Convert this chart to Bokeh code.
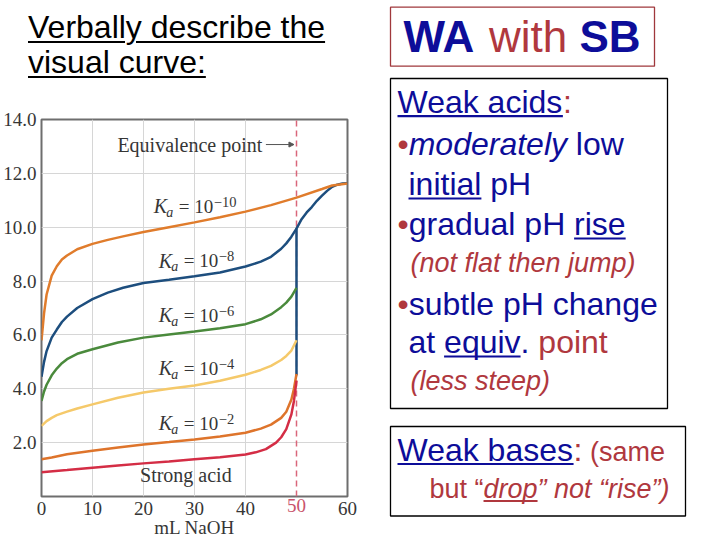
from bokeh.plotting import figure
from bokeh.layouts import row, column
from bokeh.models import Range1d, FixedTicker, PrintfTickFormatter, Arrow, NormalHead, LinearAxis, Div
from bokeh.core.properties import value
from bokeh.embed import file_html
from bokeh.resources import INLINE

# ---------------- data ----------------
strong_ml = [0, 5, 10, 15, 20, 25, 30, 35, 40, 42, 44, 45, 46, 47, 48, 49, 49.5, 50]
strong_ph = [0.9, 0.98, 1.07, 1.15, 1.23, 1.3, 1.38, 1.46, 1.56, 1.64, 1.76, 1.88, 2.0, 2.2, 2.5, 3.05, 3.55, 4.3]

ka2_ml = [0, 2, 5, 10, 15, 20, 25, 30, 35, 40, 43, 45, 47, 48, 49, 49.5, 50]
ka2_ph = [1.38, 1.45, 1.57, 1.7, 1.82, 1.93, 2.02, 2.12, 2.23, 2.37, 2.52, 2.67, 2.92, 3.15, 3.6, 4.0, 4.55]

ka4_ml = [0, 1, 2, 3, 5, 7, 10, 15, 20, 25, 30, 35, 40, 43, 45, 47, 48, 49, 50]
ka4_ph = [2.62, 2.8, 2.92, 3.02, 3.15, 3.27, 3.42, 3.67, 3.86, 4.0, 4.12, 4.3, 4.52, 4.7, 4.85, 5.07, 5.22, 5.42, 5.8]

ka6_ml = [0, 0.5, 1, 2, 3, 4, 5, 7, 10, 15, 20, 25, 30, 35, 40, 43, 45, 47, 48, 49, 50]
ka6_ph = [3.55, 3.9, 4.15, 4.5, 4.75, 4.95, 5.1, 5.3, 5.47, 5.72, 5.9, 6.02, 6.13, 6.25, 6.4, 6.58, 6.76, 7.03, 7.2, 7.42, 7.75]

ka8_ml = [0, 0.5, 1, 2, 3, 4, 5, 7, 10, 13, 16, 20, 25, 30, 35, 40, 43, 45, 47, 48, 49, 50]
ka8_ph = [4.45, 5.0, 5.4, 5.9, 6.2, 6.48, 6.68, 7.0, 7.33, 7.57, 7.75, 7.93, 8.05, 8.18, 8.32, 8.54, 8.72, 8.9, 9.2, 9.4, 9.65, 9.95]

ka10_ml = [0, 0.5, 1, 2, 3, 4, 5, 7, 10, 13, 16, 20, 25, 30, 35, 40, 45, 50, 55, 57, 60]
ka10_ph = [5.8, 6.8, 7.5, 8.2, 8.55, 8.8, 8.95, 9.18, 9.38, 9.53, 9.66, 9.82, 10.0, 10.18, 10.37, 10.58, 10.82, 11.1, 11.42, 11.55, 11.62]

# after the equivalence point (vertical jump, then the common excess-base curve)
post_ml = [50, 50, 51, 52, 53, 54, 55, 56, 57, 58, 59, 60]
post_ph = [4.5, 9.95, 10.3, 10.55, 10.75, 10.98, 11.17, 11.35, 11.5, 11.58, 11.62, 11.63]

eq_line_ml = [50, 50]
eq_line_ph = [0, 14]

x_ticks = [0, 10, 20, 30, 40, 60]
eq_ticks = [50]
y_ticks = [2, 4, 6, 8, 10, 12, 14]
x_grid = [10, 20, 30, 40]
y_grid = [2, 4, 6, 8, 10, 12]

ka_exponents = ["\u221210", "\u22128", "\u22126", "\u22124", "\u22122"]
ka_label_ml = [22.0, 23.0, 23.0, 23.0, 23.0]
ka_label_ph = [10.52, 8.51, 6.48, 4.51, 2.47]

# ---------------- styles ----------------
SERIF = "Liberation Serif"
SANS = "Liberation Sans"
INK = "#363636"
BLUE = "#0d0d99"
RED = "#b0383e"
SERIF_MID = 0.3375   # baseline -> middle, in em (serif)
SANS_MID = 0.3465    # baseline -> middle, in em (sans)
TICK_LABEL_H = 19    # height bokeh gives a 19px tick label

# ---------------- chart ----------------
p = figure(width=360, height=440, x_range=Range1d(0, 60), y_range=Range1d(0, 14),
           output_backend="svg", toolbar_location=None,
           min_border_left=41, min_border_right=13, min_border_top=19, min_border_bottom=43)
p.background_fill_color = "white"
p.border_fill_color = "white"
p.outline_line_color = "#6e6e6e"
p.outline_line_width = 2

p.xaxis.ticker = FixedTicker(ticks=x_ticks)
p.yaxis.ticker = FixedTicker(ticks=y_ticks)
p.yaxis.formatter = PrintfTickFormatter(format="%.1f")


def style_axis(ax, color):
    ax.axis_line_color = None
    ax.major_tick_line_color = None
    ax.minor_tick_line_color = None
    ax.major_tick_out = 0
    ax.major_tick_in = 0
    ax.minor_tick_out = 0
    ax.minor_tick_in = 0
    ax.major_label_text_font = SERIF
    ax.major_label_text_font_size = "19px"
    ax.major_label_text_color = color


style_axis(p.xaxis[0], INK)
style_axis(p.yaxis[0], INK)
p.xaxis.major_label_standoff = 5
p.yaxis.major_label_standoff = 5

# the equivalence tick label in its own colour: a second bottom axis pulled up onto the first
eq_axis = LinearAxis(ticker=FixedTicker(ticks=eq_ticks))
style_axis(eq_axis, "#c9546c")
eq_axis.major_label_standoff = -TICK_LABEL_H
eq_axis.axis_label = "mL NaOH"
eq_axis.axis_label_text_font = SERIF
eq_axis.axis_label_text_font_size = "19px"
eq_axis.axis_label_text_font_style = "normal"
eq_axis.axis_label_text_color = INK
eq_axis.axis_label_standoff = 2
p.add_layout(eq_axis, "below")

p.xgrid.ticker = FixedTicker(ticks=x_grid)
p.ygrid.ticker = FixedTicker(ticks=y_grid)
p.grid.grid_line_color = "#d6d6d6"
p.grid.grid_line_width = 1

p.line(eq_line_ml, eq_line_ph, line_color="#d9667a", line_width=1.5, line_dash="6 4")
p.line(post_ml, post_ph, line_color="#1d4e7e", line_width=2.5)
p.line(ka10_ml, ka10_ph, line_color="#e07c2c", line_width=2.5)
p.line(ka8_ml, ka8_ph, line_color="#1d4e7e", line_width=2.5)
p.line(ka6_ml, ka6_ph, line_color="#4a8a3c", line_width=2.5)
p.line(ka4_ml, ka4_ph, line_color="#f5c96a", line_width=2.5)
p.line(ka2_ml, ka2_ph, line_color="#de742b", line_width=2.5)
p.line(strong_ml, strong_ph, line_color="#d42d45", line_width=2.5)

p.text(x=[43.3], y=[13.07], text=["Equivalence point"], text_align="right", text_baseline="middle",
       text_font=value(SERIF), text_font_size="20px", text_color=INK)
p.add_layout(Arrow(end=NormalHead(size=5, fill_color="#555555", line_color="#555555"),
                   x_start=44.0, y_start=13.07, x_end=49.5, y_end=13.07,
                   line_color="#555555", line_width=1))

n = len(ka_label_ml)


def ka_piece(texts, size, dx, shift, italic=False):
    p.text(x=ka_label_ml, y=ka_label_ph, text=texts, text_baseline="middle",
           x_offset=dx, y_offset=-SERIF_MID * size + shift,
           text_font=value(SERIF), text_font_style="italic" if italic else "normal",
           text_font_size=f"{size}px", text_color=INK)


ka_piece(["K"] * n, 20, 0, 0, italic=True)
ka_piece(["a"] * n, 14, 12.5, 4, italic=True)
ka_piece(["= 10"] * n, 19, 25, 0)
ka_piece(ka_exponents, 14.5, 60, -6)

p.text(x=[28.3], y=[0.54], text=["Strong acid"], text_align="center", text_baseline="middle",
       y_offset=-SERIF_MID * 20,
       text_font=value(SERIF), text_font_size="20px", text_color=INK)

# ---------------- text helpers (right panel) ----------------
ARIAL = {' ': 278, '(': 333, ')': 333, '.': 278, ':': 278, '\u201c': 333, '\u201d': 333, '\u2022': 350,
         'a': 556, 'b': 556, 'c': 500, 'd': 556, 'e': 556, 'f': 278, 'g': 556, 'h': 556, 'i': 222,
         'j': 222, 'k': 500, 'l': 222, 'm': 833, 'n': 556, 'o': 556, 'p': 556, 'q': 556, 'r': 333,
         's': 500, 't': 278, 'u': 556, 'v': 500, 'w': 722, 'x': 500, 'y': 500, 'z': 500,
         'A': 667, 'B': 667, 'H': 722, 'S': 667, 'V': 667, 'W': 944}
ARIAL_BOLD = {'W': 944, 'A': 722, 'S': 667, 'B': 722, ' ': 278}


def text_width(s, size, bold=False):
    tab = ARIAL_BOLD if bold else ARIAL
    return sum(tab.get(ch, ARIAL.get(ch, 556)) for ch in s) * size / 1000.0


def draw_runs(fig, x, y, parts):
    for txt, color, style, size, ul in parts:
        bold = "bold" in style
        core = txt.strip()
        lead = len(txt) - len(txt.lstrip())
        x0 = x + text_width(txt[:lead], size, bold)
        fig.text(x=[x0], y=[y - SANS_MID * size], text=[core], text_color=color, text_font=value(SANS),
                 text_font_style=style, text_font_size=f"{size}px",
                 text_baseline="middle", text_align="left")
        w = text_width(core, size, bold)
        if ul:
            fig.line([x0, x0 + w], [y + 3, y + 3], line_color=color, line_width=2.2)
        x += text_width(txt, size, bold)


def blank_fig(w, h, x0, y0):
    f = figure(width=w, height=h, x_range=Range1d(x0, x0 + w), y_range=Range1d(y0 + h, y0),
               output_backend="svg", toolbar_location=None, x_axis_type=None, y_axis_type=None,
               min_border=0)
    f.grid.visible = False
    f.outline_line_color = None
    f.background_fill_color = "white"
    f.border_fill_color = "white"
    return f


# ---------------- heading (top-left) ----------------
head = Div(text=("<div style=\"font-family:'Liberation Sans',Arial,sans-serif;font-size:32px;"
                 "line-height:35px;color:#000;text-decoration:underline;text-decoration-thickness:2px;"
                 "text-underline-offset:3px;padding:10px 0 0 28px;margin:0;white-space:nowrap;\">"
                 "Verbally describe the<br>visual curve:</div>"),
           width=360, height=100, margin=(0, 0, 0, 0))

# ---------------- right panel ----------------
r = blank_fig(360, 540, 360, 0)
r.quad(left=[390], right=[654], top=[6.7], bottom=[65.7], fill_color=None, line_color="#a0383c", line_width=1.3)
r.quad(left=[390], right=[667], top=[78], bottom=[408], fill_color=None, line_color="black", line_width=1.3)
r.quad(left=[390], right=[685], top=[426], bottom=[515.5], fill_color=None, line_color="black", line_width=1.3)

draw_runs(r, 403, 51.7, [("WA", BLUE, "bold", 44, False), (" with ", RED, "normal", 44, False),
                         ("SB", BLUE, "bold", 44, False)])

draw_runs(r, 397, 112.7, [("Weak acids", BLUE, "normal", 32, True), (":", RED, "normal", 32, False)])
draw_runs(r, 397, 155, [("\u2022", RED, "normal", 32, False), ("moderately", BLUE, "italic", 32, False),
                        (" low", BLUE, "normal", 32, False)])
draw_runs(r, 408, 195, [("initial", BLUE, "normal", 32, True), (" pH", BLUE, "normal", 32, False)])
draw_runs(r, 397, 235, [("\u2022", RED, "normal", 32, False), ("gradual pH ", BLUE, "normal", 32, False),
                        ("rise", BLUE, "normal", 32, True)])
draw_runs(r, 410, 272, [("(not flat then jump)", RED, "italic", 27, False)])
draw_runs(r, 397, 315, [("\u2022", RED, "normal", 32, False), ("subtle pH change", BLUE, "normal", 32, False)])
draw_runs(r, 408, 353, [("at ", BLUE, "normal", 32, False), ("equiv", BLUE, "normal", 32, True),
                        (".", BLUE, "normal", 32, False), (" point", RED, "normal", 32, False)])
draw_runs(r, 410, 390, [("(less steep)", RED, "italic", 27, False)])

draw_runs(r, 397, 460.5, [("Weak bases", BLUE, "normal", 32, True), (":", RED, "normal", 32, False),
                          (" (same", RED, "normal", 27, False)])
draw_runs(r, 429, 497.5, [("but \u201c", RED, "normal", 27, False), ("drop", RED, "italic", 27, True),
                          ("\u201d not \u201crise\u201d)", RED, "italic", 27, False)])

layout = row(column(head, p), r)
open("out.html", "w").write(file_html(layout, INLINE))
